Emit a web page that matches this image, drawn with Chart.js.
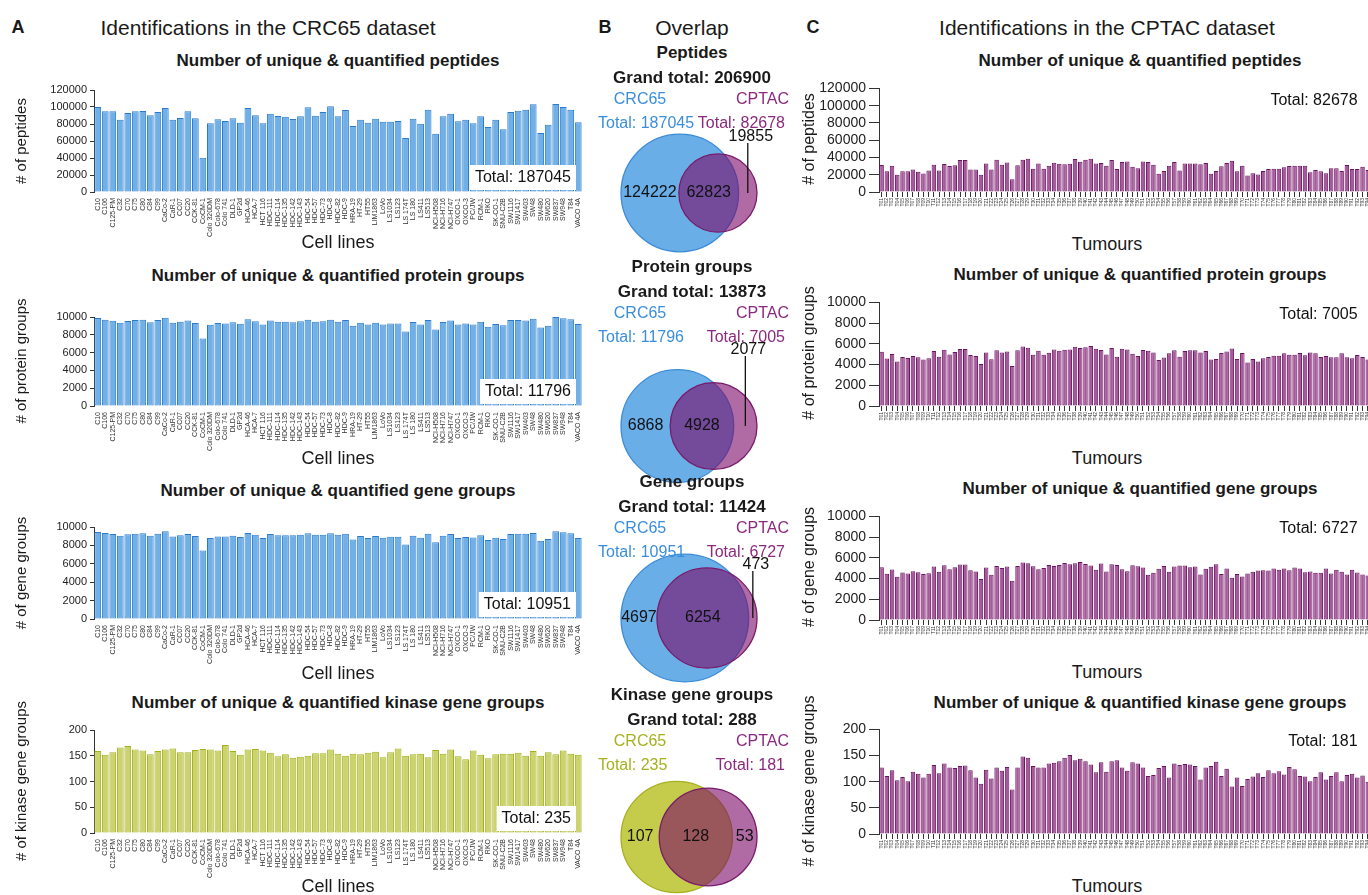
<!DOCTYPE html>
<html>
<head>
<meta charset="UTF-8">
<title>CRC65 / CPTAC identifications</title>
<script src="https://cdn.jsdelivr.net/npm/chart.js@4.4.1/dist/chart.umd.min.js"></script>
<style>
	html, body {margin:0; padding:0; overflow:hidden; background:#fff;}
	body {width:1368px; height:895px; position:relative; font-family:"Liberation Sans", Arial, sans-serif; color:#1a1a1a;}
	.box {position:absolute;}
	.t {position:absolute; white-space:nowrap; line-height:1; transform:translate(-50%,-50%);}
	.l {transform:translate(0,-50%);}
	.r {transform:translate(-100%,-50%);}
	.rot {transform:translate(-50%,-50%) rotate(-90deg);}
	.head {font-size:21px;}
	.letter {font-size:18px; font-weight:bold;}
	.sub {font-size:17px; font-weight:bold;}
	.vn {font-size:16px;}
	.xt {font-size:18px;}
	.yt {font-size:15px;}
	.ytc {font-size:16px;}
	.blue {color:#3a8edb;}
	.purple {color:#8c2a7e;}
	.olive {color:#a6b11d;}
</style>
</head>
<body>
	<!-- A: CRC65 -->
	<div class="box" id="a1" style="left:0;top:80px;width:600px;height:162px"><canvas></canvas></div>
	<div class="box" id="a2" style="left:0;top:307px;width:600px;height:149px"><canvas></canvas></div>
	<div class="box" id="a3" style="left:0;top:517px;width:600px;height:152px"><canvas></canvas></div>
	<div class="box" id="a4" style="left:0;top:720px;width:600px;height:163px"><canvas></canvas></div>
	<!-- B: overlap -->
	<div class="box" id="v1" style="left:600px;top:83px;width:180px;height:220px"><canvas></canvas></div>
	<div class="box" id="v2" style="left:600px;top:316px;width:180px;height:220px"><canvas></canvas></div>
	<div class="box" id="v3" style="left:600px;top:508px;width:180px;height:220px"><canvas></canvas></div>
	<div class="box" id="v4" style="left:600px;top:727px;width:180px;height:220px"><canvas></canvas></div>
	<!-- C: CPTAC -->
	<div class="box" id="c1" style="left:800px;top:77px;width:580px;height:145px"><canvas></canvas></div>
	<div class="box" id="c2" style="left:800px;top:291px;width:580px;height:145px"><canvas></canvas></div>
	<div class="box" id="c3" style="left:800px;top:505px;width:580px;height:145px"><canvas></canvas></div>
	<div class="box" id="c4" style="left:800px;top:718px;width:580px;height:146px"><canvas></canvas></div>

	<div class="t letter" style="left:18px;top:27px">A</div>
	<div class="t head" style="left:268px;top:27px">Identifications in the CRC65 dataset</div>
	<div class="t letter" style="left:605px;top:27px">B</div>
	<div class="t head" style="left:692px;top:27px">Overlap</div>
	<div class="t letter" style="left:813px;top:27px">C</div>
	<div class="t head" style="left:1107px;top:27px">Identifications in the CPTAC dataset</div>

	<div class="t sub" style="left:338px;top:60px">Number of unique &amp; quantified peptides</div>
	<div class="t sub" style="left:338px;top:275px">Number of unique &amp; quantified protein groups</div>
	<div class="t sub" style="left:338px;top:490px">Number of unique &amp; quantified gene groups</div>
	<div class="t sub" style="left:338px;top:702px">Number of unique &amp; quantified kinase gene groups</div>

	<div class="t sub" style="left:1140px;top:60px">Number of unique &amp; quantified peptides</div>
	<div class="t sub" style="left:1140px;top:274px">Number of unique &amp; quantified protein groups</div>
	<div class="t sub" style="left:1140px;top:488px">Number of unique &amp; quantified gene groups</div>
	<div class="t sub" style="left:1140px;top:702px">Number of unique &amp; quantified kinase gene groups</div>

	<div class="t xt" style="left:338px;top:242px">Cell lines</div>
	<div class="t xt" style="left:338px;top:458px">Cell lines</div>
	<div class="t xt" style="left:338px;top:673px">Cell lines</div>
	<div class="t xt" style="left:338px;top:886px">Cell lines</div>

	<div class="t xt" style="left:1107px;top:244px">Tumours</div>
	<div class="t xt" style="left:1107px;top:458px">Tumours</div>
	<div class="t xt" style="left:1107px;top:672px">Tumours</div>
	<div class="t xt" style="left:1107px;top:886px">Tumours</div>

	<div class="t yt rot" style="left:20px;top:141px"># of peptides</div>
	<div class="t yt rot" style="left:20px;top:361px"># of protein groups</div>
	<div class="t yt rot" style="left:20px;top:573px"># of gene groups</div>
	<div class="t yt rot" style="left:20px;top:781px"># of kinase gene groups</div>

	<div class="t ytc rot" style="left:809px;top:139px"># of peptides</div>
	<div class="t ytc rot" style="left:809px;top:353px"># of protein groups</div>
	<div class="t ytc rot" style="left:809px;top:567px"># of gene groups</div>
	<div class="t ytc rot" style="left:809px;top:781px"># of kinase gene groups</div>

	<div id="vennText"></div>

<script>
	// ---- data: CRC65 cell lines ----
	const cellLines = ['C10','C106','C125-PM','C32','C70','C75','C80','C84','C99','CaCo-2',
		'CaR-1','CC07','CC20','CCK-81','CoCM-1','Colo 320DM','Colo-678','Colo 741','DLD-1','GP2d',
		'HCA-46','HCA-7','HCT 116','HDC-111','HDC-114','HDC-135','HDC-142','HDC-143','HDC-54','HDC-57',
		'HDC-73','HDC-8','HDC-82','HDC-9','HRA-19','HT-29','HT55','LIM1863','LoVo','LS1034',
		'LS123','LS 174T','LS 180','LS411','LS513','NCI-H508','NCI-H716','NCI-H747','OXCO-1','OXCO-3',
		'PC/JW','RCM-1','RKO','SK-CO-1','SNU-C2B','SW1116','SW1417','SW403','SW48','SW480',
		'SW620','SW837','SW948','T84','VACO 4A'];

	const crcPeptides = [100000,94900,94900,85100,92900,94900,95300,90200,94100,98800,
		85100,87100,94900,86700,40400,80800,85500,83500,86700,81600,
		98800,90200,80800,92200,89400,88600,85900,89000,99600,89800,
		94100,100800,89000,96500,77600,85100,81600,86300,82700,82700,
		83500,63500,86300,80400,96900,68600,89000,92200,83100,85100,
		80800,89000,76500,85100,73700,94100,95700,96900,103100,69400,
		79200,103500,100000,96900,82000];
	const crcProteins = [9890,9700,9580,9360,9550,9660,9700,9400,9660,9920,
		9360,9470,9620,9320,7580,9130,9320,9280,9400,9250,
		9740,9510,9170,9620,9470,9470,9400,9510,9700,9470,
		9510,9700,9470,9660,9020,9360,9170,9360,9170,9280,
		9280,8380,9430,9170,9660,8600,9430,9620,9170,9280,
		9170,9470,8910,9210,9060,9660,9660,9620,9810,8830,
		9020,10000,9850,9740,9210];
	const crcGenes = [9450,9350,9240,9050,9200,9270,9310,9050,9270,9530,
		8980,9090,9240,9020,7450,8800,8980,8980,9050,8910,
		9350,9160,8800,9240,9090,9090,9090,9160,9310,9160,
		9160,9310,9160,9270,8650,9020,8800,9020,8840,8950,
		8950,8110,9050,8840,9270,8330,9050,9240,8800,8910,
		8870,9090,8580,8840,8690,9240,9270,9270,9350,8510,
		8690,9530,9420,9310,8800];
	const crcKinases = [159,152,157,166,169,162,160,153,159,162,
		164,157,157,161,163,162,160,171,159,152,
		162,163,160,156,149,153,146,148,150,155,
		155,162,154,150,154,153,156,158,147,157,
		164,150,153,154,147,161,154,162,149,143,
		160,152,145,153,154,154,156,150,159,150,
		157,153,160,154,152];

	// ---- data: CPTAC tumours ----
	const cptacPeptides = [31200,24000,30500,20000,24000,24000,26000,23600,21300,24800,
		31600,24800,32400,30100,30900,37000,37000,26000,26000,20000,
		33000,26000,37300,31600,34300,14900,30900,37300,38500,27000,
		33000,27000,30500,33900,32800,32000,32800,38100,35000,37300,
		38500,33000,33500,30500,37000,26700,34700,35400,29300,27400,
		35400,34700,31600,21000,24400,30500,34700,24800,33000,33000,
		33000,32000,33500,21000,24400,29700,33500,36200,24000,30500,
		19000,21700,20200,24400,26700,27000,27000,28600,30100,30500,
		30500,30500,22800,25500,24000,21700,27400,27400,24400,31200,
		26700,26700,29300,25500,24800];
	const cptacProteins = [5240,4590,5020,4290,4730,4630,4820,4700,4480,4600,
		5300,4760,5430,4980,5210,5490,5490,4920,4820,4060,
		5170,4510,5370,5170,5270,3870,5370,5750,5620,4950,
		5330,4950,5140,5460,5330,5430,5460,5710,5590,5680,
		5780,5520,5400,4980,5590,4760,5520,5460,5050,4820,
		5400,5330,5170,4440,4670,5080,5370,4760,5300,5370,
		5370,5170,5300,4480,4540,5110,5270,5560,4540,5110,
		4190,4540,4290,4600,4730,4860,4860,5080,4950,4950,
		5110,4890,5170,5080,4730,4820,4700,4700,5080,4700,
		4600,4920,4730,4480,4950];
	const cptacGenes = [5100,4460,4870,4170,4590,4490,4710,4620,4430,4520,
		5160,4650,5290,4900,5100,5350,5350,4810,4680,3950,
		5060,4360,5220,5030,5160,3790,5220,5540,5480,5190,
		4900,5030,5320,5220,5320,5510,5380,5480,5600,5410,
		5250,4840,5450,4680,5380,5320,4900,4710,5290,5190,
		5060,4360,4550,4940,5220,4650,5160,5250,5250,5100,
		5160,4400,4940,5130,5380,4430,4970,4080,4430,4200,
		4490,4650,4780,4810,4780,4970,4840,4970,4810,5060,
		4970,4620,4680,4550,4550,4970,4490,4840,4650,4400,
		4840,4590,4400,4300,4800];
	const cptacKinases = [127,111,122,103,109,101,119,115,108,115,
		132,116,135,127,126,130,131,122,108,96,
		123,106,127,121,128,85,127,148,146,130,
		127,127,135,136,139,146,151,141,144,139,
		133,118,137,119,139,141,127,121,137,135,
		127,111,113,126,130,108,135,132,134,133,
		130,104,127,130,138,111,125,91,108,92,
		105,110,116,109,122,116,120,114,128,124,
		111,110,101,109,118,104,111,118,101,113,
		115,108,112,100,113];
	// tumour ids are unreadable in the source, so simple running ids are used
	const tumours = cptacPeptides.map((v, i) => 'T' + String(i + 1).padStart(2, '0'));

	// ---- data: overlap ----
	const vennNames = ['Peptides', 'Protein groups', 'Gene groups', 'Kinase gene groups'];
	const vennGrand = [206900, 13873, 11424, 288];
	const vennCrc = [187045, 11796, 10951, 235];
	const vennCptac = [82678, 7005, 6727, 181];
	const vennShared = [62823, 4928, 6254, 128];

	Chart.defaults.font.family = '"Liberation Sans", Arial, sans-serif';
	Chart.defaults.color = '#222';
	Chart.defaults.animation = false;

	// "Total: ..." note in the plot
	const totalNote = {
		id: 'totalNote',
		afterDraw(chart, args, o) {
			if (!o.text) return;
			const ctx = chart.ctx, a = chart.chartArea;
			ctx.save();
			ctx.font = '16px "Liberation Sans", Arial, sans-serif';
			ctx.textBaseline = 'middle';
			const w = ctx.measureText(o.text).width;
			if (o.boxed) {
				const x2 = a.right - 6, y2 = a.bottom - 2;
				ctx.fillStyle = '#fff';
				ctx.fillRect(x2 - w - 10, y2 - 25, w + 10, 25);
				ctx.fillStyle = '#111';
				ctx.textAlign = 'left';
				ctx.fillText(o.text, x2 - w - 5, y2 - 12);
			} else {
				ctx.fillStyle = '#111';
				ctx.textAlign = 'right';
				ctx.fillText(o.text, a.right - 18, a.top + o.dy);
			}
			ctx.restore();
		}
	};

	function barChart(id, o) {
		const canvas = document.querySelector('#' + id + ' canvas');
		return new Chart(canvas, {
			type: 'bar',
			data: {
				labels: o.labels,
				datasets: [{
					data: o.values,
					backgroundColor: o.fill,
					borderColor: o.line,
					borderWidth: 1,
					borderSkipped: false,
					barPercentage: o.barPct,
					categoryPercentage: 1
				}]
			},
			options: {
				responsive: true,
				maintainAspectRatio: false,
				events: [],
				layout: {padding: {top: 10, left: 0, right: o.padRight, bottom: 0}},
				plugins: {
					legend: {display: false},
					tooltip: {enabled: false},
					totalNote: {text: 'Total: ' + o.total, boxed: o.boxed, dy: 12}
				},
				scales: {
					x: {
						offset: true,
						border: {display: false},
						grid: {display: o.xTicks, drawOnChartArea: false, drawTicks: true, tickLength: 5, offset: false, color: '#333'},
						ticks: {autoSkip: false, minRotation: 90, maxRotation: 90, padding: 1, color: '#333', font: {size: o.xFont}},
						afterFit: s => { s.height = o.xHeight; }
					},
					y: {
						min: 0,
						max: o.max,
						border: {display: true, color: '#333', width: 1},
						grid: {drawOnChartArea: false, drawTicks: true, tickLength: o.tickLen, color: '#333'},
						ticks: {stepSize: o.step, autoSkip: false, padding: 3, color: '#222', font: {size: o.yFont}, callback: v => String(v)},
						afterFit: s => { s.width = o.yWidth; }
					}
				}
			},
			plugins: [totalNote]
		});
	}

	const crcBlue = {fill: '#70b0e6', line: '#2b7bcc'};
	const crcGreen = {fill: '#cbd36e', line: '#a3b01a'};
	const cptacPurple = {fill: '#a6599b', line: '#6b1561'};

	function crcPanel(id, values, max, step, total, col) {
		barChart(id, {labels: cellLines, values: values, fill: col.fill, line: col.line, barPct: 0.9,
			max: max, step: step, total: total, boxed: true,
			xTicks: false, xFont: 7, xHeight: 50, yFont: 11, tickLen: 4, yWidth: 94, padRight: 18});
	}
	function cptacPanel(id, values, max, step, total) {
		barChart(id, {labels: tumours, values: values, fill: cptacPurple.fill, line: cptacPurple.line, barPct: 0.86,
			max: max, step: step, total: total, boxed: false,
			xTicks: true, xFont: 5, xHeight: 30, yFont: 14, tickLen: 10, yWidth: 79, padRight: 2});
	}

	crcPanel('a1', crcPeptides, 120000, 20000, 187045, crcBlue);
	crcPanel('a2', crcProteins, 10000, 2000, 11796, crcBlue);
	crcPanel('a3', crcGenes, 10000, 2000, 10951, crcBlue);
	crcPanel('a4', crcKinases, 200, 50, 235, crcGreen);

	cptacPanel('c1', cptacPeptides, 120000, 20000, 82678);
	cptacPanel('c2', cptacProteins, 10000, 2000, 7005);
	cptacPanel('c3', cptacGenes, 10000, 2000, 6727);
	cptacPanel('c4', cptacKinases, 200, 50, 181);

	// ---- Venn: area proportional circles ----
	function lens(r1, r2, d) {
		if (d >= r1 + r2) return 0;
		if (d <= Math.abs(r1 - r2)) return Math.PI * Math.min(r1, r2) ** 2;
		const a = r1 * r1 * Math.acos((d * d + r1 * r1 - r2 * r2) / (2 * d * r1));
		const b = r2 * r2 * Math.acos((d * d + r2 * r2 - r1 * r1) / (2 * d * r2));
		const c = 0.5 * Math.sqrt((-d + r1 + r2) * (d + r1 - r2) * (d - r1 + r2) * (d + r1 + r2));
		return a + b - c;
	}
	function solveDistance(r1, r2, area) {
		let lo = Math.abs(r1 - r2), hi = r1 + r2;
		for (let k = 0; k < 60; k++) {
			const mid = (lo + hi) / 2;
			if (lens(r1, r2, mid) > area) lo = mid; else hi = mid;
		}
		return (lo + hi) / 2;
	}

	const vennLabels = {
		id: 'vennLabels',
		afterDatasetsDraw(chart, args, o) {
			const ctx = chart.ctx, sx = chart.scales.x, sy = chart.scales.y;
			const leftX = (-1 + o.d - o.r2) / 2;
			const midX = (o.d - o.r2 + 1) / 2;
			const rightX = (1 + o.d + o.r2) / 2;
			const cy = sy.getPixelForValue(0);
			ctx.save();
			ctx.font = '16px "Liberation Sans", Arial, sans-serif';
			ctx.fillStyle = '#111';
			ctx.textAlign = 'center';
			ctx.textBaseline = 'middle';
			ctx.fillText(String(o.only1), sx.getPixelForValue(leftX), cy);
			ctx.fillText(String(o.both), sx.getPixelForValue(midX), cy);
			const px = sx.getPixelForValue(rightX);
			if (o.leader) {
				const ty = cy - o.leader;
				ctx.fillText(String(o.only2), px + 3, ty);
				ctx.strokeStyle = '#111';
				ctx.lineWidth = 1.3;
				ctx.beginPath();
				ctx.moveTo(px, ty + 6);
				ctx.lineTo(px, cy);
				ctx.stroke();
			} else {
				ctx.fillText(String(o.only2), px, cy);
			}
			ctx.restore();
		}
	};

	const unitPx = chart => chart.scales.x.getPixelForValue(1) - chart.scales.x.getPixelForValue(0);

	// whole diagram is scaled to a fixed width, starting 21px into its 180x220 box
	function vennChart(id, i, col1, leader) {
		const r2 = Math.sqrt(vennCptac[i] / vennCrc[i]);
		const d = solveDistance(1, r2, Math.PI * vennShared[i] / vennCrc[i]);
		const u = 136 / (1 + d + r2);
		const xmin = -1 - 21 / u;
		const canvas = document.querySelector('#' + id + ' canvas');
		new Chart(canvas, {
			type: 'scatter',
			data: {
				datasets: [
					{data: [{x: d, y: 0}], order: 1, pointRadius: c => unitPx(c.chart) * r2,
						backgroundColor: 'rgba(123,8,103,0.6)', borderColor: '#7a1a6b', borderWidth: 1.3},
					{data: [{x: 0, y: 0}], order: 2, pointRadius: c => unitPx(c.chart),
						backgroundColor: col1.fill, borderColor: col1.line, borderWidth: 1.3}
				]
			},
			options: {
				responsive: true,
				maintainAspectRatio: false,
				events: [],
				layout: {padding: 0},
				scales: {
					x: {display: false, min: xmin, max: xmin + 180 / u},
					y: {display: false, min: -110 / u, max: 110 / u}
				},
				plugins: {
					legend: {display: false},
					tooltip: {enabled: false},
					vennLabels: {d: d, r2: r2, only1: vennCrc[i] - vennShared[i], both: vennShared[i],
						only2: vennCptac[i] - vennShared[i], leader: leader}
				}
			},
			plugins: [vennLabels]
		});
	}

	const vennBlue = {fill: '#6aaee8', line: '#3b8cd8'};
	const vennGreen = {fill: '#c5cc4c', line: '#a7b01f'};
	vennChart('v1', 0, vennBlue, 56);
	vennChart('v2', 1, vennBlue, 76);
	vennChart('v3', 2, vennBlue, 53);
	vennChart('v4', 3, vennGreen, 0);

	// Venn headings
	const vennTop = [52, 266, 481, 694];
	let html = '';
	vennNames.forEach((name, i) => {
		const y = vennTop[i];
		const c1 = i === 3 ? 'olive' : 'blue';
		html += `
			<div class="t sub" style="left:692px;top:${y}px">${name}</div>
			<div class="t sub" style="left:692px;top:${y + 25}px">Grand total: ${vennGrand[i]}</div>
			<div class="t vn ${c1}" style="left:640px;top:${y + 47}px">CRC65</div>
			<div class="t vn r purple" style="left:789px;top:${y + 47}px">CPTAC</div>
			<div class="t vn l ${c1}" style="left:598px;top:${y + 71}px">Total: ${vennCrc[i]}</div>
			<div class="t vn r purple" style="left:785px;top:${y + 71}px">Total: ${vennCptac[i]}</div>
		`;
	});
	document.getElementById('vennText').innerHTML = html;
</script>
</body>
</html>
